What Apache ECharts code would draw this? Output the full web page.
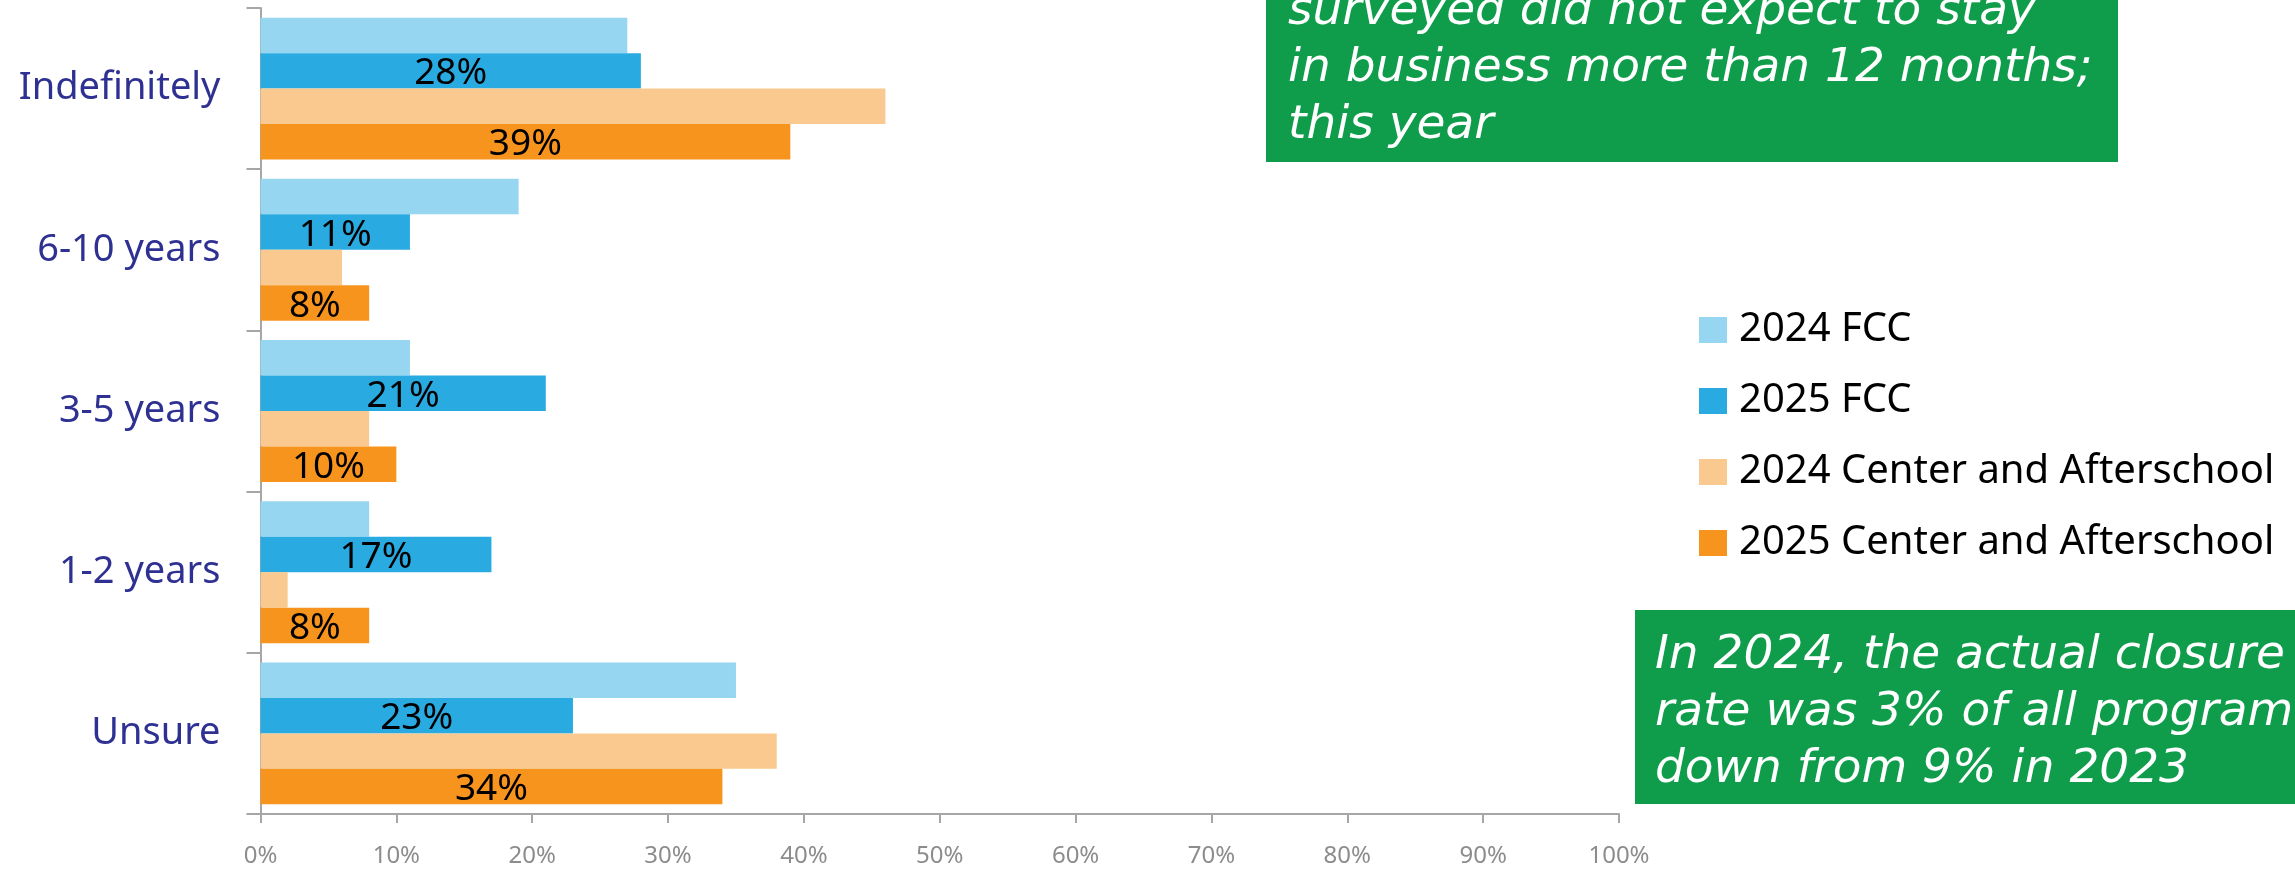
<!DOCTYPE html>
<html>
<head>
<meta charset="utf-8">
<script src="https://cdn.jsdelivr.net/npm/echarts@6/dist/echarts.min.js"></script>
<style>
html,body{margin:0;padding:0;background:#fff;}
#chart{width:2295px;height:869px;}
</style>
</head>
<body>
<div id="chart"></div>
<script>
var categories = ['Indefinitely', '6-10 years', '3-5 years', '1-2 years', 'Unsure'];
var seriesNames = ['2024 FCC', '2025 FCC', '2024 Center and Afterschool', '2025 Center and Afterschool'];
var fcc2024 = [27, 19, 11, 8, 35];
var fcc2025 = [28, 11, 21, 17, 23];
var center2024 = [46, 6, 8, 2, 38];
var center2025 = [39, 8, 10, 8, 34];
var topNoteLines = ['surveyed did not expect to stay', 'in business more than 12 months;', 'this year'];
var bottomNoteLines = ['In 2024, the actual closure', 'rate was 3% of all program', 'down from 9% in 2023'];

var FONT = '"Noto Sans", sans-serif';
var NOTE_FONT = '"DejaVu Sans", sans-serif';
var colors = ['#97D6F0', '#29AAE1', '#F9C98F', '#F7941E'];
var green = '#0F9D4B';
var axisGray = '#A6A6A6';

function mkSeries(name, data, color, showLabel) {
  return {
    name: name,
    type: 'bar',
    data: data,
    barGap: 0,
    barCategoryGap: '12%',
    itemStyle: { color: color },
    label: {
      show: showLabel,
      position: 'inside',
      offset: [0, 3],
      formatter: '{c}%',
      color: '#000',
      fontFamily: FONT,
      fontSize: 37
    },
    emphasis: { disabled: true }
  };
}

var chart = echarts.init(document.getElementById('chart'), null, { renderer: 'canvas' });
chart.setOption({
  animation: false,
  backgroundColor: '#fff',
  grid: { left: 260.5, right: 676, top: 8, bottom: 55, containLabel: false },
  xAxis: {
    type: 'value',
    min: 0,
    max: 100,
    interval: 10,
    axisLine: { show: true, lineStyle: { color: axisGray, width: 2 } },
    axisTick: { show: true, length: 9, lineStyle: { color: axisGray, width: 2 } },
    splitLine: { show: false },
    axisLabel: { formatter: '{value}%', color: '#8C8C8C', fontFamily: FONT, fontSize: 24, margin: 30 }
  },
  yAxis: {
    type: 'category',
    data: categories,
    inverse: true,
    axisLine: { show: true, lineStyle: { color: axisGray, width: 2 } },
    axisTick: { show: true, length: 14, lineStyle: { color: axisGray, width: 2 } },
    axisLabel: { color: '#2E3192', fontFamily: FONT, fontSize: 38, margin: 40 }
  },
  legend: {
    orient: 'vertical',
    left: 1694,
    top: 305,
    itemWidth: 28,
    itemHeight: 26,
    itemGap: 31,
    icon: 'rect',
    data: seriesNames,
    textStyle: { color: '#000', fontFamily: FONT, fontSize: 40, lineHeight: 40, padding: [0, 0, 0, 7] }
  },
  series: [
    mkSeries(seriesNames[0], fcc2024, colors[0], false),
    mkSeries(seriesNames[1], fcc2025, colors[1], true),
    mkSeries(seriesNames[2], center2024, colors[2], false),
    mkSeries(seriesNames[3], center2025, colors[3], true)
  ],
  graphic: [
    { type: 'rect', left: 1266, top: 0, shape: { width: 852, height: 162 }, style: { fill: green }, silent: true },
    { type: 'text', x: 1288, y: -16.5, silent: true,
      style: { text: topNoteLines.join('\n'), fill: '#fff', font: 'oblique 47px ' + NOTE_FONT, lineHeight: 57, verticalAlign: 'top' } },
    { type: 'rect', left: 1635, top: 610, shape: { width: 670, height: 194 }, style: { fill: green }, silent: true },
    { type: 'text', x: 1655, y: 627, silent: true,
      style: { text: bottomNoteLines.join('\n'), fill: '#fff', font: 'oblique 47px ' + NOTE_FONT, lineHeight: 57, verticalAlign: 'top' } }
  ]
});
</script>
</body>
</html>
